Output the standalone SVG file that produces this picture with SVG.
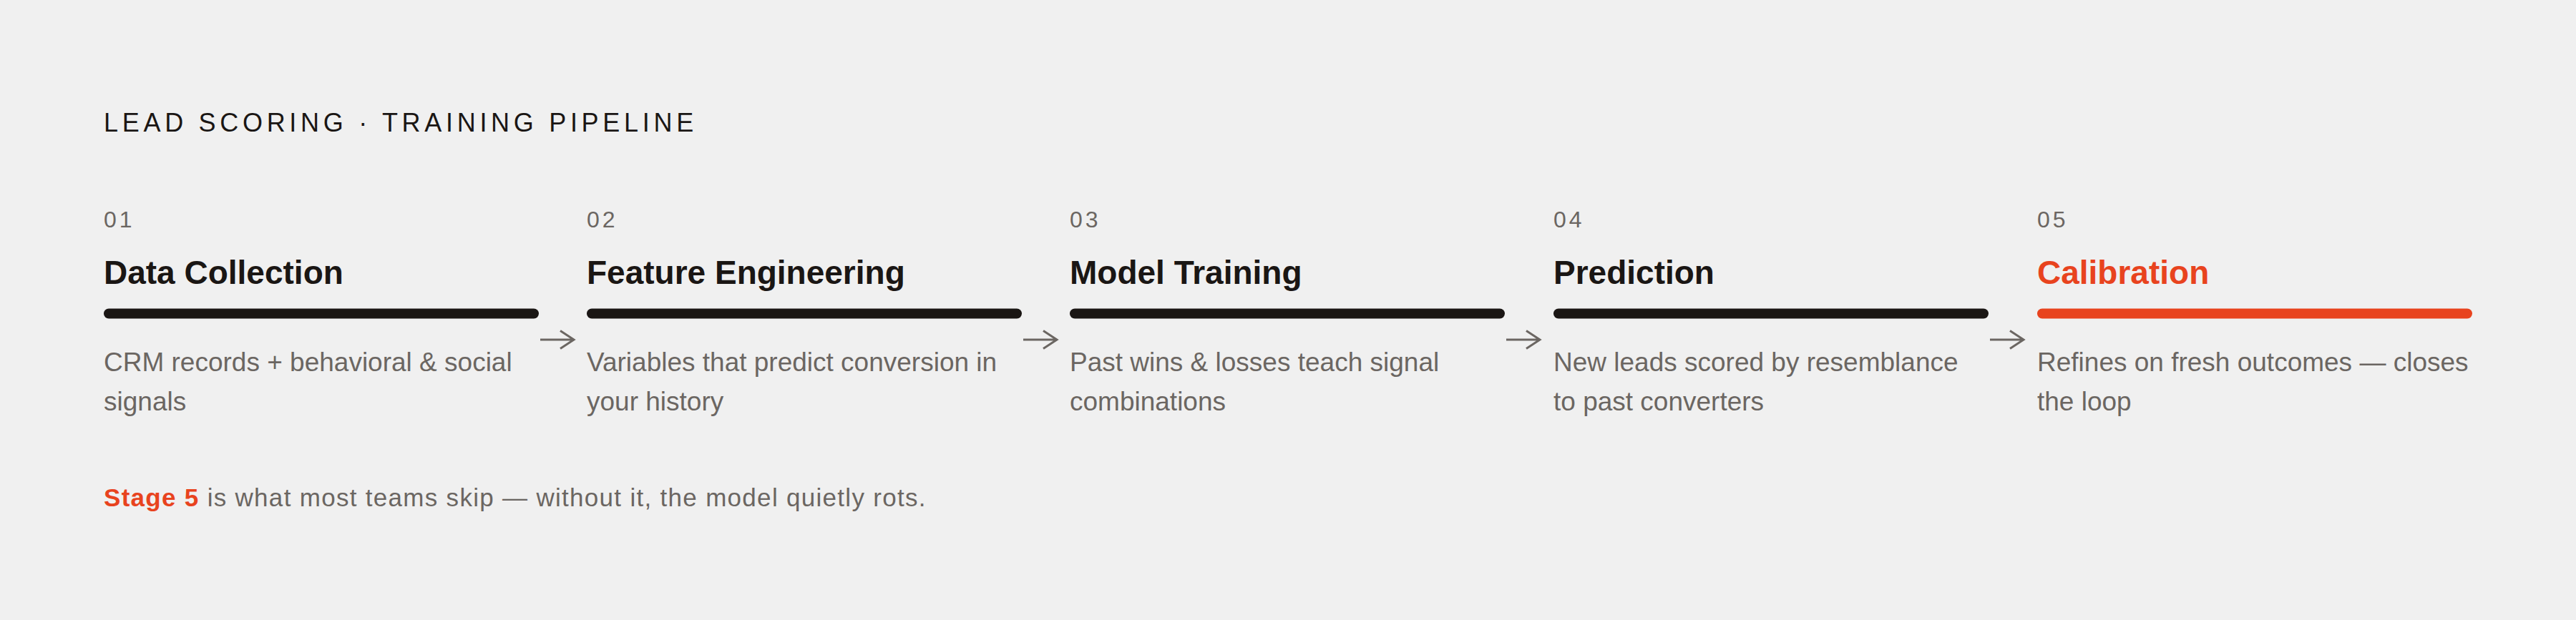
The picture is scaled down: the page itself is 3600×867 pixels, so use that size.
<svg xmlns="http://www.w3.org/2000/svg" width="3600" height="867" viewBox="0 0 3600 867">
<defs>
<style>
.bg{fill:#f0f0f0}
.title{font-family:"Liberation Sans",Arial,sans-serif;font-size:36px;letter-spacing:5.7px;fill:#1a1614}
.num{font-family:"Liberation Sans",Arial,sans-serif;font-size:32px;letter-spacing:4px;fill:#6b6662}
.head{font-family:"Liberation Sans",Arial,sans-serif;font-size:46px;font-weight:bold;fill:#1a1614}
.head.accent{fill:#e8431e}
.body{font-family:"Liberation Sans",Arial,sans-serif;font-size:37px;fill:#6b6662}
.bar{fill:#1a1614}
.bar.accent{fill:#e8431e}
.foot{font-family:"Liberation Sans",Arial,sans-serif;font-size:35px;letter-spacing:1.3px;fill:#6b6662}
.foot .em{font-weight:bold;fill:#e8431e}
.arrow{fill:none;stroke:#6b6662;stroke-width:3;stroke-linecap:butt;stroke-linejoin:miter}
</style>
</defs>
<rect class="bg" x="0" y="0" width="3600" height="867"/>
<text class="title" x="145" y="184">LEAD SCORING · TRAINING PIPELINE</text>

<g id="stage1">
<text class="num" x="145" y="317.5">01</text>
<text class="head" x="145" y="397">Data Collection</text>
<rect class="bar" x="145" y="431.5" width="608" height="14" rx="7"/>
<text class="body" x="145" y="519">CRM records + behavioral &amp; social</text>
<text class="body" x="145" y="574">signals</text>
</g>

<g id="stage2">
<text class="num" x="820" y="317.5">02</text>
<text class="head" x="820" y="397">Feature Engineering</text>
<rect class="bar" x="820" y="431.5" width="608" height="14" rx="7"/>
<text class="body" x="820" y="519">Variables that predict conversion in</text>
<text class="body" x="820" y="574">your history</text>
</g>

<g id="stage3">
<text class="num" x="1495" y="317.5">03</text>
<text class="head" x="1495" y="397">Model Training</text>
<rect class="bar" x="1495" y="431.5" width="608" height="14" rx="7"/>
<text class="body" x="1495" y="519">Past wins &amp; losses teach signal</text>
<text class="body" x="1495" y="574">combinations</text>
</g>

<g id="stage4">
<text class="num" x="2171" y="317.5">04</text>
<text class="head" x="2171" y="397">Prediction</text>
<rect class="bar" x="2171" y="431.5" width="608" height="14" rx="7"/>
<text class="body" x="2171" y="519">New leads scored by resemblance</text>
<text class="body" x="2171" y="574">to past converters</text>
</g>

<g id="stage5">
<text class="num" x="2847" y="317.5">05</text>
<text class="head accent" x="2847" y="397">Calibration</text>
<rect class="bar accent" x="2847" y="431.5" width="608" height="14" rx="7"/>
<text class="body" x="2847" y="519">Refines on fresh outcomes — closes</text>
<text class="body" x="2847" y="574">the loop</text>
</g>

<g id="connectors">
<path class="arrow" d="M755 475H802M783 462.5L802 475L783 487.5"/>
<path class="arrow" d="M1430 475H1477M1458 462.5L1477 475L1458 487.5"/>
<path class="arrow" d="M2105 475H2152M2133 462.5L2152 475L2133 487.5"/>
<path class="arrow" d="M2781 475H2828M2809 462.5L2828 475L2809 487.5"/>
</g>

<text class="foot" x="145" y="707.5"><tspan class="em">Stage 5</tspan> is what most teams skip — without it, the model quietly rots.</text>
</svg>
